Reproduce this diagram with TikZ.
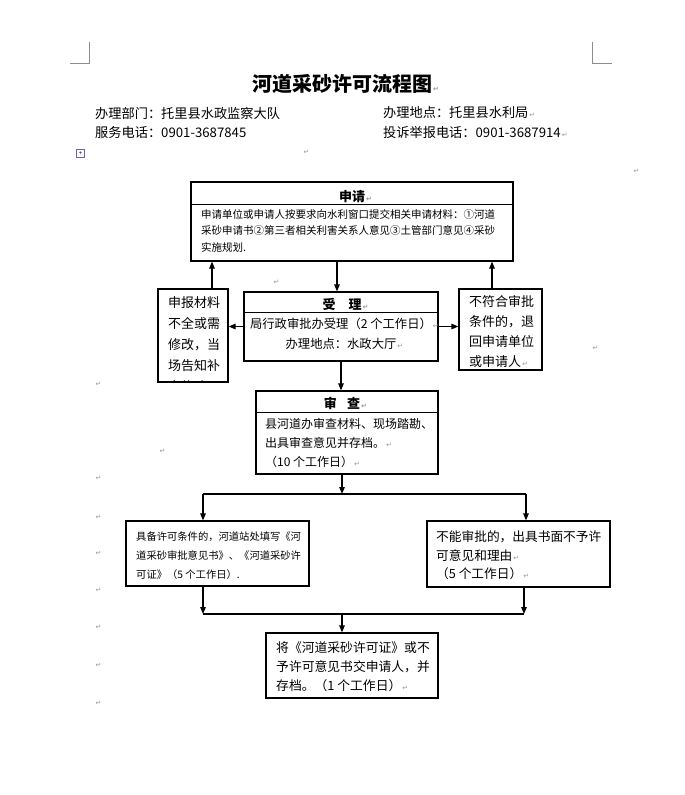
\documentclass[tikz,border=0pt]{standalone}
\usepackage{fontspec}
\setmainfont{Noto Sans CJK SC}
\newfontfamily\dejavu{DejaVu Sans}
\usetikzlibrary{arrows.meta}
\newcommand\pmk{{\dejavu\fontsize{7}{7}\selectfont\color{black!40}\kern1pt ↵}}
\newcommand\pmr{\rlap{\pmk}}
\newcommand\fs[2]{\fontsize{#1}{#2}\selectfont}
\tikzset{
  bx/.style={draw=black,line width=1.2pt,inner sep=0pt},
  ln/.style={line width=1.2pt,draw=black},
  arr/.style={line width=1.2pt,draw=black,-{Triangle[length=7pt,width=5.5pt]}},
  txt/.style={anchor=west,align=left,inner sep=0pt},
  ctxt/.style={anchor=center,align=center,inner sep=0pt},
  crop/.style={line width=0.8pt,draw=black!45},
  pmark/.style={inner sep=0pt,anchor=center}
}
\begin{document}
\begin{tikzpicture}[x=1pt,y=-1pt]
\useasboundingbox (0,0) rectangle (685,795);
\fill[white] (0,0) rectangle (685,795);

% crop marks
\draw[crop] (89,42) -- (89,63) -- (70,63);
\draw[crop] (592,42) -- (592,63) -- (612,63);

% header
\node[ctxt,font=\bfseries\fs{20}{24}] (title) at (342,84) {河道采砂许可流程图\pmr};
\node[txt,font=\fs{13.2}{16}] (dept) at (95,113) {办理部门：托里县水政监察大队};
\node[txt,font=\fs{13.2}{16}] (tel) at (95,132) {服务电话：0901-3687845};
\node[txt,font=\fs{13.2}{16}] (place) at (383,113) {办理地点：托里县水利局\pmk};
\node[txt,font=\fs{13.2}{16}] (comp) at (383,132) {投诉举报电话：0901-3687914\pmk};

% table handle icon
\node[draw=black!50!blue!60,line width=0.6pt,minimum size=8pt,inner sep=0pt,font=\fs{6}{6}] (icon) at (80.5,153.5) {+};

% boxes
\node[bx,minimum width=322pt,minimum height=79pt] (sq) at (352,221.5) {};
\node[bx,minimum width=194pt,minimum height=69pt] (sl) at (341,326.5) {};
\node[bx,minimum width=70pt,minimum height=93pt] (lb) at (193,335.5) {};
\node[bx,minimum width=83pt,minimum height=81pt] (rb) at (500.5,329.5) {};
\node[bx,minimum width=182pt,minimum height=83pt] (sc) at (347,432.5) {};
\node[bx,minimum width=183pt,minimum height=65pt] (bl) at (217.5,553.5) {};
\node[bx,minimum width=183pt,minimum height=66pt] (br) at (518.5,554) {};
\node[bx,minimum width=172pt,minimum height=65pt] (fn) at (352,665.5) {};

% dividers
\draw[ln] ([yshift=-23pt]sq.north west) -- ([yshift=-23pt]sq.north east);
\draw[ln] ([yshift=-21pt]sl.north west) -- ([yshift=-21pt]sl.north east);
\draw[ln] ([yshift=-22pt]sc.north west) -- ([yshift=-22pt]sc.north east);

% texts
\node[ctxt,font=\bfseries\fs{13}{16}] (sqt) at (352,197) {申请\pmr};
\node[txt,font=\fs{10.5}{16.5}] (sqb) at (201,230.5) {申请单位或申请人按要求向水利窗口提交相关申请材料：①河道\\采砂申请书②第三者相关利害关系人意见③土管部门意见④采砂\\实施规划.};

\node[ctxt,font=\bfseries\fs{13}{16}] (slt) at (342,304) {受\hspace{1em}理\pmr};
\node[ctxt,font=\fs{12.3}{20}] (slb) at (341,334) {局行政审批办受理（2 个工作日）\pmr\\办理地点：水政大厅\pmr};

\begin{scope}
\clip (lb.north west) rectangle (lb.south east);
\node[txt,font=\fs{13}{21}] (lbt) at (168,345) {申报材料\\不全或需\\修改，当\\场告知补\\充修改\pmk};
\end{scope}

\node[txt,font=\fs{13}{20}] (rbt) at (469,332) {不符合审批\\条件的，退\\回申请单位\\或申请人\pmk};

\node[ctxt,font=\bfseries\fs{13}{16}] (sct) at (342,403) {审\hspace{0.8em}查\pmr};
\node[txt,font=\fs{12}{19}] (scb) at (265,443) {县河道办审查材料、现场踏勘、\\出具审查意见并存档。\pmk\\（10 个工作日）\pmk};

\node[txt,font=\fs{10.3}{19}] (blt) at (136,556) {具备许可条件的，河道站处填写《河\\道采砂审批意见书》、《河道采砂许\\可证》（5 个工作日）.};
\node[txt,font=\fs{12.7}{18.5}] (brt) at (436,555.5) {不能审批的，出具书面不予许\\可意见和理由\pmk\\（5 个工作日）\pmk};
\node[txt,font=\fs{12.8}{19}] (fnt) at (276,667) {将《河道采砂许可证》或不\\予许可意见书交申请人，并\\存档。（1 个工作日）\pmk};

% connector coordinates
\coordinate (xa) at (337,0);
\coordinate (xl) at (212,0);
\coordinate (xr) at (492,0);
\coordinate (j0) at (342,494);
\coordinate (j1) at (203,494);
\coordinate (j2) at (526,494);
\coordinate (k1) at (203,614);
\coordinate (k2) at (524,614);
\coordinate (k0) at (342,614);

% connectors
\draw[arr] (sq.south -| xa) -- (sl.north -| xa);
\draw[arr] (lb.north -| xl) -- (sq.south -| xl);
\draw[arr] (rb.north -| xr) -- (sq.south -| xr);
\draw[arr] (sl.west) -- (lb.east |- sl.west);
\draw[arr] (sl.east) -- (rb.west |- sl.east);
\draw[arr] (sl.south) -- (sc.north -| sl.south);
\draw[arr] (sc.south -| j0) -- (j0);
\draw[ln] (j1) -- (j2);
\draw[arr] (j1) -- (bl.north -| j1);
\draw[arr] (j2) -- (br.north -| j2);
\draw[arr] (bl.south -| k1) -- (k1);
\draw[arr] (br.south -| k2) -- (k2);
\draw[ln] (k1) -- (k2);
\draw[arr] (k0) -- (fn.north -| k0);

% stray paragraph marks
\node[pmark] (m1) at (306,152) {\pmk};
\node[pmark] (m2) at (276,282) {\pmk};
\node[pmark] (m3) at (636,171) {\pmk};
\node[pmark] (m4) at (595,348) {\pmk};
\node[pmark] (m5) at (98,384) {\pmk};
\node[pmark] (m6) at (162,451) {\pmk};
\node[pmark] (m7) at (98,478) {\pmk};
\node[pmark] (m8) at (98,517) {\pmk};
\node[pmark] (m9) at (98,553) {\pmk};
\node[pmark] (m10) at (98,590) {\pmk};
\node[pmark] (m11) at (98,627) {\pmk};
\node[pmark] (m12) at (98,665) {\pmk};
\node[pmark] (m13) at (98,703) {\pmk};
\end{tikzpicture}
\end{document}
